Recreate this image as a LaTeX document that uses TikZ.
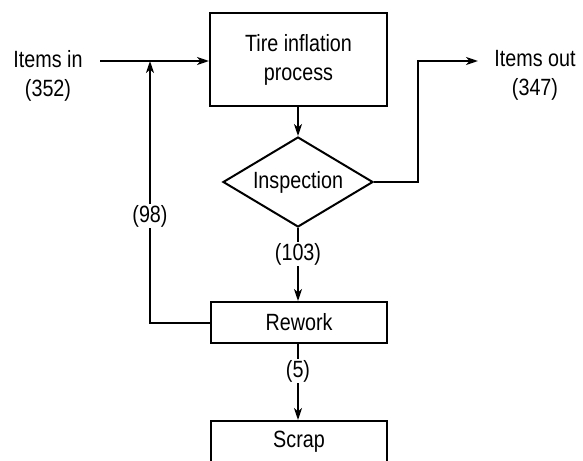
\documentclass[tikz,border=0pt]{standalone}
\usepackage{fontspec}
\setmainfont[FakeStretch=0.84]{Liberation Sans}
\usetikzlibrary{shapes.geometric,arrows.meta}
\begin{document}
\begin{tikzpicture}[x=1pt,y=-1pt,
  line/.style={line width=2pt},
  arr/.style={line, -{Stealth[length=12pt,width=8pt,inset=3.5pt]}},
  box/.style={draw,line width=2pt,inner sep=0pt},
  lbl/.style={font=\fontsize{23.5}{29}\selectfont,align=center,inner sep=1pt}]
\useasboundingbox (0,0) rectangle (583,460);
\clip (0,0) rectangle (583,460);
\node[box,minimum width=177pt,minimum height=93pt] (proc) at (298.5,59.5) {};
\node[lbl] at (proc.center) {Tire inflation\\process};
\node[draw,diamond,line width=2pt,inner sep=0pt,minimum width=150pt,minimum height=90pt,aspect=1.667] (insp) at (298,182) {};
\node[lbl] at (insp.center) {Inspection};
\node[box,minimum width=176pt,minimum height=41pt] (rew) at (299,322.5) {};
\node[lbl] at (rew.center) {Rework};
\node[box,minimum width=176pt,minimum height=41pt] (scrap) at (299,441.5) {};
\node[lbl] at (scrap.center) {Scrap};
\node[lbl] (in) at (48,76) {Items in\\(352)};
\node[lbl] (out) at (535,75) {Items out\\(347)};
\coordinate (inS) at (100,61);
\coordinate (jn) at (150,61);
\coordinate (outE) at (478,61);
\coordinate (outK) at (418,61);
\node[lbl] (l98) at (150,216) {(98)};
\node[lbl] (l103) at (298,254) {(103)};
\node[lbl] (l5) at (298,371) {(5)};
\draw[arr] (inS) -- (proc.west |- inS);
\draw[arr] (proc.south -| insp.north) -- (insp.north);
\draw[arr] (insp.east) -| (outK) -- (outE);
\draw[line] (insp.south) -- (l103.north);
\draw[arr] (l103.south) -- (rew.north -| l103.south);
\draw[line] (rew.west) -| (l98.south);
\draw[arr] (l98.north) -- (jn);
\draw[line] (rew.south -| l5.north) -- (l5.north);
\draw[arr] (l5.south) -- (scrap.north -| l5.south);
\end{tikzpicture}
\end{document}
